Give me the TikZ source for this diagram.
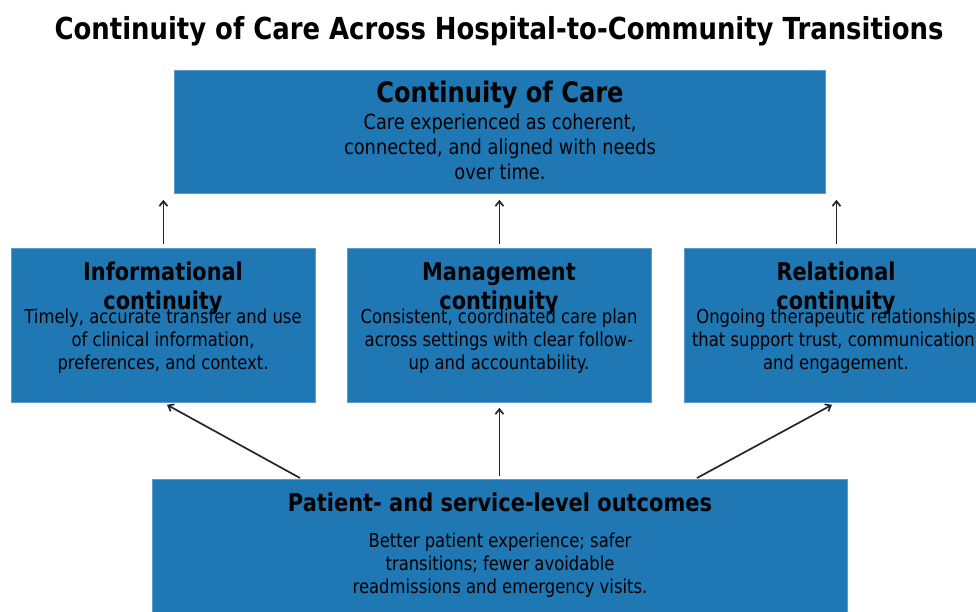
\documentclass[tikz,border=0pt]{standalone}
\usepackage{fontspec}
\setmainfont{DejaVu Sans}[FakeStretch=0.855]
\usetikzlibrary{arrows.meta,calc}
\definecolor{boxblue}{HTML}{1F77B4}
\definecolor{boxedge}{HTML}{5B9BD0}

\tikzset{
  card/.style={fill=boxblue, draw=boxedge, line width=0.8pt, inner sep=0pt, anchor=north west},
  link/.style={draw=black!85, line width=1.7pt, -{Straight Barb[length=5pt,width=8pt,line width=1.7pt]}},
  headtext/.style={font=\bfseries\fontsize{24.4}{29}\selectfont, align=center, inner sep=0pt},
  bodytext/.style={font=\fontsize{19.2}{23}\selectfont, align=center, inner sep=0pt},
}

\begin{document}
\begin{tikzpicture}[x=1pt, y=-1pt]
  \useasboundingbox (0,0) rectangle (976,611);
  \clip (0,0) rectangle (976,611);

  % title
  \node[font=\bfseries\fontsize{30.3}{36}\selectfont, inner sep=0pt] (title) at (499,31)
    {Continuity of Care Across Hospital-to-Community Transitions};

  % top box
  \node[card, minimum width=651pt, minimum height=123pt] (top) at (174,70) {};
  \node[headtext, font=\bfseries\fontsize{28.2}{34}\selectfont] (tophead) at (500,95) {Continuity of Care};
  \node[bodytext, font=\fontsize{20.8}{25}\selectfont] (topbody) at (500,147)
    {Care experienced as coherent,\\connected, and aligned with needs\\over time.};

  % three dimensions of continuity
  \node[card, minimum width=304pt, minimum height=154pt] (info) at (11,248) {};
  \node[card, minimum width=304pt, minimum height=154pt] (mgmt) at (347,248) {};
  \node[card, minimum width=304pt, minimum height=154pt] (rel) at (684,248) {};

  \node[headtext] (infohead) at (163,288.5) {Informational\\continuity};
  \node[bodytext] (infobody) at (163,341) {Timely, accurate transfer and use\\of clinical information,\\preferences, and context.};

  \node[headtext] (mgmthead) at (499,288.5) {Management\\continuity};
  \node[bodytext] (mgmtbody) at (499,341) {Consistent, coordinated care plan\\across settings with clear follow-\\up and accountability.};

  \node[headtext] (relhead) at (836,288.5) {Relational\\continuity};
  \node[bodytext] (relbody) at (836,341) {Ongoing therapeutic relationships\\that support trust, communication,\\and engagement.};

  % outcomes box
  \node[card, minimum width=695pt, minimum height=170pt] (out) at (152,479) {};
  \node[headtext, font=\bfseries\fontsize{24.5}{30}\selectfont] (outhead) at (500,502) {Patient- and service-level outcomes};
  \node[bodytext] (outbody) at (500,565) {Better patient experience; safer\\transitions; fewer avoidable\\readmissions and emergency visits.};

  % dimensions feed continuity of care
  \draw[link, shorten <=4pt, shorten >=6pt] (info.north) -- (info.north |- top.south);
  \draw[link, shorten <=4pt, shorten >=6pt] (mgmt.north) -- (mgmt.north |- top.south);
  \draw[link, shorten <=4pt, shorten >=6pt] (rel.north) -- (rel.north |- top.south);

  % outcomes link to each dimension
  \draw[link] ([xshift=148pt, yshift=1pt]out.north west) -- ([xshift=156pt, yshift=-2pt]info.south west);
  \draw[link, shorten <=3pt, shorten >=5pt] (out.north -| mgmt.south) -- (mgmt.south);
  \draw[link] ([xshift=545pt, yshift=1pt]out.north west) -- ([xshift=148pt, yshift=-2pt]rel.south west);
\end{tikzpicture}
\end{document}
